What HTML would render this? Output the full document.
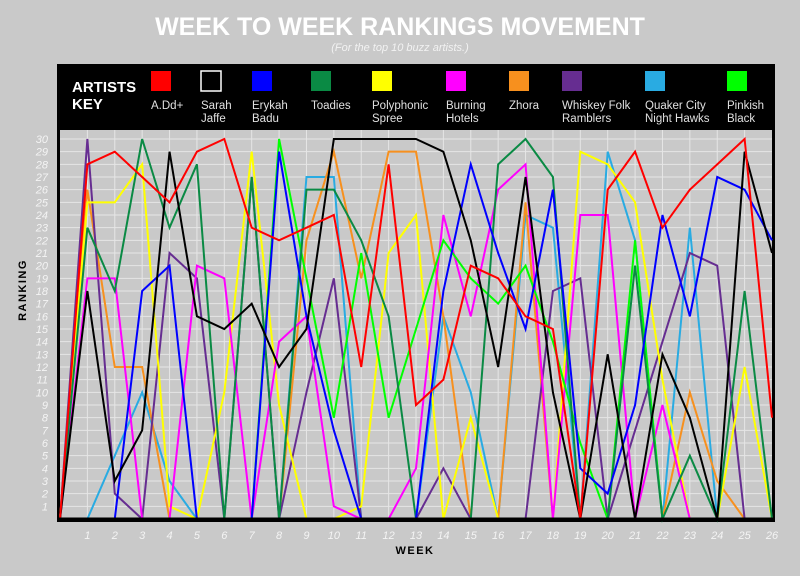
<!DOCTYPE html>
<html><head><meta charset="utf-8"><style>
html,body{margin:0;padding:0;background:#c9c9c9;}
svg{display:block;}
text{font-family:"Liberation Sans Narrow","Liberation Sans",sans-serif;}
</style></head><body>
<svg id="chart" width="800" height="576" xmlns="http://www.w3.org/2000/svg">
<rect x="0" y="0" width="800" height="576" fill="#c9c9c9"/>
<text x="400" y="35" text-anchor="middle" fill="#fff" font-size="25" font-weight="bold">WEEK TO WEEK RANKINGS MOVEMENT</text>
<text x="400" y="51" text-anchor="middle" fill="#f2f2f2" font-size="11" font-style="italic">(For the top 10 buzz artists.)</text>
<rect x="57" y="64" width="718" height="458" fill="#000"/>
<rect x="60" y="130" width="712" height="388" fill="#c9c9c9"/>
<text x="72" y="92" fill="#fff" font-size="15" font-weight="bold" font-family="Liberation Sans">ARTISTS</text>
<text x="72" y="109" fill="#fff" font-size="15" font-weight="bold" font-family="Liberation Sans">KEY</text>
<g id="grid"></g>
<g id="ylabels"></g>
<g id="xlabels"></g>
<g id="legend"></g>
<g id="series"></g>
<line x1="58" y1="519.5" x2="775" y2="519.5" stroke="#000" stroke-width="4"/>
<text transform="translate(26,290) rotate(-90)" text-anchor="middle" fill="#000" font-size="11" font-weight="bold" font-family="Liberation Sans" letter-spacing="1.5">RANKING</text>
<text x="415" y="554" text-anchor="middle" fill="#000" font-size="11" font-weight="bold" font-family="Liberation Sans" letter-spacing="1.5">WEEK</text>
</svg>
<script>
const weeks = [0,1,2,3,4,5,6,7,8,9,10,11,12,13,14,15,16,17,18,19,20,21,22,23,24,25,26];
const yTicks = [1,2,3,4,5,6,7,8,9,10,11,12,13,14,15,16,17,18,19,20,21,22,23,24,25,26,27,28,29,30];
const artistNames = ["A.Dd+","Sarah Jaffe","Erykah Badu","Toadies","Polyphonic Spree","Burning Hotels","Zhora","Whiskey Folk Ramblers","Quaker City Night Hawks","Pinkish Black"];
const legendLines = [["A.Dd+"],["Sarah","Jaffe"],["Erykah","Badu"],["Toadies"],["Polyphonic","Spree"],["Burning","Hotels"],["Zhora"],["Whiskey Folk","Ramblers"],["Quaker City","Night Hawks"],["Pinkish","Black"]];
const colors = ["#ff0000","#000000","#0000ff","#0a8a44","#ffff00","#ff00ff","#f7901e","#662d91","#29abe2","#00ff00"];
const legendX = [151,201,252,311,372,446,509,562,645,727];
const add =      [0,28,29,27,25,29,30,23,22,23,24,12,28,9,11,20,19,16,15,0,26,29,23,26,28,30,8];
const sarah =    [0,18,3,7,29,16,15,17,12,15,30,30,30,30,29,22,12,27,10,0,13,0,13,8,0,29,21];
const erykah =   [0,0,0,18,20,0,0,0,29,16,7,0,0,0,18,28,21,15,26,4,2,9,24,16,27,26,22];
const toadies =  [0,23,18,30,23,28,0,27,0,26,26,22,16,0,0,0,28,30,27,0,0,20,0,5,0,18,0];
const poly =     [0,25,25,28,1,0,10,29,9,0,0,1,21,24,0,8,0,0,0,29,28,25,11,0,0,12,0];
const burning =  [0,19,19,0,0,20,19,0,14,16,1,0,0,4,24,16,26,28,0,24,24,0,9,0,0,0,0];
const zhora =    [0,26,12,12,0,0,0,0,0,22,29,19,29,29,16,0,0,25,0,0,0,0,0,10,3,0,0];
const whiskey =  [0,30,2,0,21,19,0,27,0,10,19,0,0,0,4,0,0,0,18,19,0,7,14,21,20,0,0];
const quaker =   [0,0,5,10,3,0,0,0,0,27,27,0,0,0,16,10,0,24,23,0,29,22,0,23,0,0,0];
const pinkish =  [0,0,0,0,0,0,0,0,30,19,8,21,8,15,22,19,17,20,14,6,0,22,0,0,0,0,0];
const seriesData = [add,sarah,erykah,toadies,poly,burning,zhora,whiskey,quaker,pinkish];
const drawOrder = [8,6,7,4,5,9,3,2,1,0];

const NS="http://www.w3.org/2000/svg";
const X0=60, X1=772, Y0=519, Y1=139;
function xScale(w){return X0+(w-0)*(X1-X0)/26;}
function yScale(r){return Y0-r*(Y0-Y1)/30;}
function mk(tag,attrs,parent){const e=document.createElementNS(NS,tag);for(const k in attrs)e.setAttribute(k,attrs[k]);parent.appendChild(e);return e;}

const grid=document.getElementById('grid');
yTicks.forEach(t=>{
  const l=mk('line',{x1:X0,x2:X1,y1:yScale(t),y2:yScale(t),stroke:'#e6e6e6','stroke-width':1},grid);
  
  
});
weeks.slice(1,26).forEach(w=>{
  const l=mk('line',{x1:xScale(w),x2:xScale(w),y1:130,y2:Y0,stroke:'#e6e6e6','stroke-width':1},grid);
  
  
});
const yl=document.getElementById('ylabels');
yTicks.forEach(t=>{
  const e=mk('text',{x:48,y:yScale(t)+4,'text-anchor':'end',fill:'#f4f4f4','font-size':11,'font-style':'italic'},yl);
  e.textContent=t;
  
  
});
const xl=document.getElementById('xlabels');
weeks.slice(1).forEach(w=>{
  const e=mk('text',{x:xScale(w),y:539,'text-anchor':'middle',fill:'#f4f4f4','font-size':11,'font-style':'italic'},xl);
  e.textContent=w;
  
  
});
const lg=document.getElementById('legend');
artistNames.forEach((n,i)=>{
  const g=mk('g',{},lg);
  
  
  const sw=mk('rect',{x:legendX[i],y:71,width:20,height:20,fill:colors[i],stroke:i===1?'#fff':'none','stroke-width':1.5},g);
  
  
  legendLines[i].forEach((ln,j)=>{
    const t=mk('text',{x:legendX[i],y:109+j*13,fill:'#e0e0e0','font-size':11.5},g);
    t.textContent=ln;
    
    
  });
});
const sg=document.getElementById('series');
drawOrder.forEach(i=>{
  const pts=seriesData[i].map((v,w)=>xScale(weeks[w])+','+yScale(v)).join(' ');
  const p=mk('polyline',{points:pts,fill:'none',stroke:colors[i],'stroke-width':2,'stroke-linejoin':'miter'},sg);
  
  
});
</script>
</body></html>
